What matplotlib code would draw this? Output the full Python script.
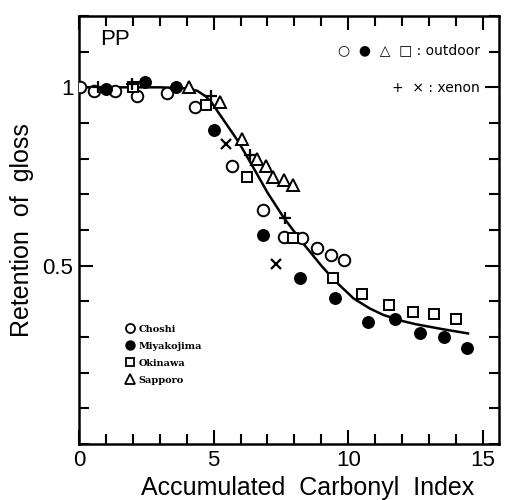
import matplotlib.pyplot as plt
from matplotlib.ticker import MultipleLocator, FixedLocator
from matplotlib.lines import Line2D

plt.rcParams['font.family'] = ['Liberation Sans', 'DejaVu Sans']

# outdoor exposure series
choshi_x = [0.05, 0.55, 1.35, 2.15, 3.25, 4.3, 5.7, 6.85, 7.6, 8.3, 8.85, 9.35, 9.85]
choshi_y = [1.0, 0.99, 0.99, 0.975, 0.985, 0.945, 0.78, 0.657, 0.58, 0.578, 0.55, 0.53, 0.517]

miyako_x = [1.0, 2.45, 3.6, 5.0, 6.85, 8.2, 9.5, 10.75, 11.75, 12.65, 13.55, 14.4]
miyako_y = [0.995, 1.015, 1.0, 0.88, 0.587, 0.466, 0.41, 0.343, 0.35, 0.31, 0.30, 0.27]

okinawa_x = [2.0, 4.7, 6.25, 7.95, 9.45, 10.5, 11.5, 12.4, 13.2, 14.0]
okinawa_y = [1.0, 0.95, 0.75, 0.578, 0.466, 0.42, 0.39, 0.37, 0.365, 0.35]

sapporo_x = [4.1, 5.25, 6.05, 6.6, 6.95, 7.2, 7.6, 7.95]
sapporo_y = [1.0, 0.96, 0.855, 0.80, 0.78, 0.75, 0.74, 0.725]

# xenon lamp series
xenon_plus_x = [0.7, 1.95, 4.9, 6.35, 7.65]
xenon_plus_y = [1.0, 1.01, 0.975, 0.81, 0.635]
xenon_cross_x = [5.45, 7.3]
xenon_cross_y = [0.84, 0.505]

# fitted curve
curve_x = [0, 1, 2, 3, 4, 4.4, 4.7, 4.9, 5.4, 5.9, 6.4, 7.0, 7.6, 8.3, 9.0, 9.5,
           10.2, 10.8, 11.3, 12.0, 12.5, 13.5, 14.45]
curve_y = [1.0, 1.0, 1.0, 1.0, 0.997, 0.99, 0.975, 0.96, 0.905, 0.85, 0.785, 0.705,
           0.635, 0.565, 0.50, 0.458, 0.408, 0.38, 0.362, 0.345, 0.336, 0.322, 0.31]

fig = plt.figure(figsize=(5.05, 5.0), dpi=100)
ax = fig.add_axes([79 / 505, 56 / 500, 420 / 505, 428 / 500])

ax.plot(curve_x, curve_y, color='black', lw=1.8, zorder=2)

ms = 8.3
ax.plot(choshi_x, choshi_y, 'o', ms=ms, mfc='white', mec='black', mew=1.4, zorder=3)
ax.plot(miyako_x, miyako_y, 'o', ms=ms, mfc='black', mec='black', zorder=3)
ax.plot(okinawa_x, okinawa_y, 's', ms=ms - 0.8, mfc='white', mec='black', mew=1.4, zorder=3)
ax.plot(sapporo_x, sapporo_y, '^', ms=ms, mfc='white', mec='black', mew=1.4, zorder=3)
ax.plot(xenon_plus_x, xenon_plus_y, '+', ms=9, mec='black', mew=1.6, zorder=4)
ax.plot(xenon_cross_x, xenon_cross_y, 'x', ms=6.5, mec='black', mew=1.6, zorder=4)

ax.set_xlim(0, 15.6)
ax.set_ylim(0, 1.2)

ax.xaxis.set_major_locator(FixedLocator([0, 5, 10, 15]))
ax.xaxis.set_minor_locator(MultipleLocator(1))
ax.yaxis.set_major_locator(FixedLocator([0.5, 1.0]))
ax.yaxis.set_minor_locator(MultipleLocator(0.1))
ax.set_yticklabels(['0.5', '1'])
ax.tick_params(which='both', direction='in', top=True, right=True, width=1.5,
               labelsize=16, pad=4)
ax.tick_params(which='major', length=10)
ax.tick_params(which='minor', length=7)
for s in ax.spines.values():
    s.set_linewidth(1.8)

ax.set_xlabel('Accumulated  Carbonyl  Index', fontsize=18)
ax.xaxis.set_label_coords(0.545, -0.074)
ax.set_ylabel('Retention  of  gloss', fontsize=18, labelpad=6)

ax.text(0.05, 0.946, 'PP', transform=ax.transAxes, fontsize=16, va='center')
ax.text(0.955, 0.92, '○  ●  △  □ : outdoor', transform=ax.transAxes, fontsize=10,
        ha='right', va='center', family=['DejaVu Sans'])
ax.text(0.955, 0.832, '+  × : xenon', transform=ax.transAxes, fontsize=10,
        ha='right', va='center', family=['DejaVu Sans'])

handles = [
    Line2D([], [], ls='', marker='o', ms=6.5, mfc='white', mec='black', mew=1.3),
    Line2D([], [], ls='', marker='o', ms=6.5, mfc='black', mec='black'),
    Line2D([], [], ls='', marker='s', ms=6, mfc='white', mec='black', mew=1.3),
    Line2D([], [], ls='', marker='^', ms=6.5, mfc='white', mec='black', mew=1.3),
]
ax.legend(handles, ['Choshi', 'Miyakojima', 'Okinawa', 'Sapporo'],
          loc='upper left', bbox_to_anchor=(0.098, 0.29), frameon=False,
          prop={'size': 7, 'weight': 'bold', 'family': 'DejaVu Serif'},
          handletextpad=0.4, labelspacing=0.82, handlelength=1.0, borderpad=0)

fig.savefig('out.png', dpi=100)
